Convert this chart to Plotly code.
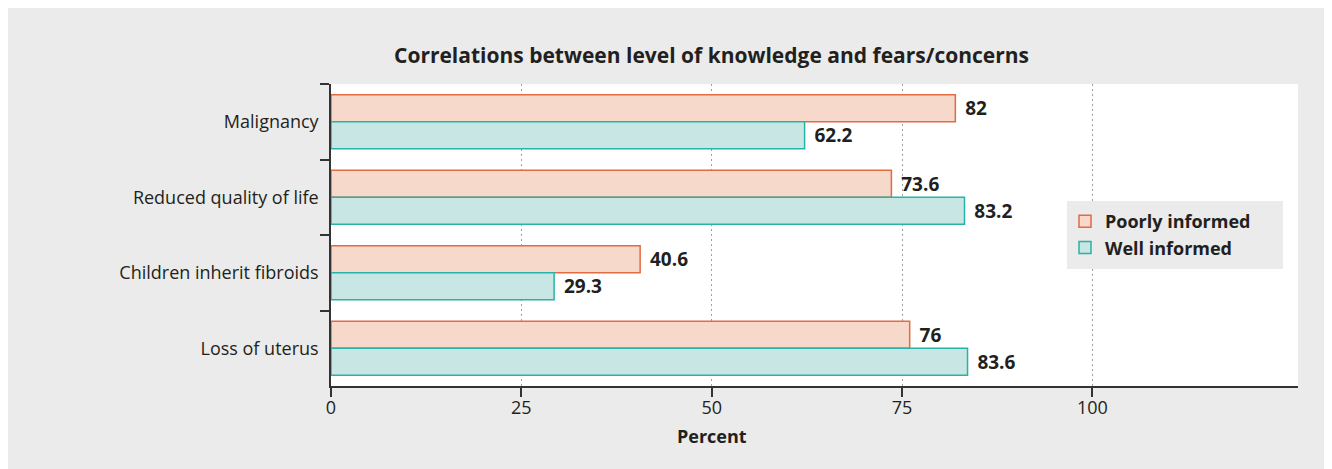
import plotly.graph_objects as go

categories = ["Malignancy", "Reduced quality of life", "Children inherit fibroids", "Loss of uterus"]
poorly = [82, 73.6, 40.6, 76]
well = [62.2, 83.2, 29.3, 83.6]
x_ticks = [0, 25, 50, 75, 100]
title_text = "Correlations between level of knowledge and fears/concerns"
x_title = "Percent"

# page has an 8px body margin; work in reference pixel coords and convert
OFF = 8
W, H = 1332 - OFF, 469 - OFF
PL, PR, PT, PB = 331, 1298, 84, 386          # plot area in reference pixels
ml, mr, mt, mb = PL - OFF, W - (PR - OFF), PT - OFF, H - (PB - OFF)
pw, ph = PR - PL, PB - PT
FONT = "Open Sans"
TXT = "#231f20"
GREY = "#eaebea"

def px2x(px):
    return (px - PL) / pw

def py2y(py):
    return (PB - py) / ph

fig = go.Figure()
for name, vals, fill, edge in [
    ("Poorly informed", poorly, "#f6d9ca", "#e36b42"),
    ("Well informed", well, "#c8e6e4", "#27b3a7"),
]:
    fig.add_trace(go.Bar(
        y=categories, x=vals, orientation="h", name=name,
        marker=dict(color=fill, line=dict(color=edge, width=1.5)),
        text=[f"\u00a0\u200a{v:g}" for v in vals], textposition="outside",
        textfont=dict(family=FONT, size=19, color=TXT, weight="bold"),
        constraintext="none", cliponaxis=False,
    ))

shapes = [
    dict(type="rect", xref="paper", yref="paper", layer="below",
         x0=px2x(6), x1=px2x(1328), y0=py2y(470), y1=py2y(8),
         fillcolor=GREY, line=dict(width=0)),
    dict(type="rect", xref="paper", yref="paper", layer="below",
         x0=0, x1=1, y0=0, y1=1, fillcolor="white", line=dict(width=0)),
    # legend box
    dict(type="rect", xref="paper", yref="paper", layer="above",
         x0=px2x(1067), x1=px2x(1283), y0=py2y(269), y1=py2y(201),
         fillcolor=GREY, line=dict(width=0)),
]

annotations = [
    dict(text=f"<b>{title_text}</b>", xref="x", yref="paper", x=50, y=py2y(55),
         xanchor="center", yanchor="middle", showarrow=False,
         font=dict(family=FONT, size=21, color=TXT)),
    dict(text=f"<b>{x_title}</b>", xref="x", yref="paper", x=50, y=py2y(436),
         xanchor="center", yanchor="middle", showarrow=False,
         font=dict(family=FONT, size=18, color=TXT)),
]

fig.update_layout(
    width=W, height=H,
    margin=dict(l=ml, r=mr, t=mt, b=mb, pad=0),
    paper_bgcolor="white", plot_bgcolor="rgba(0,0,0,0)",
    barmode="group", bargap=0.285, bargroupgap=0,
    font=dict(family=FONT, size=18, color=TXT),
    shapes=shapes, annotations=annotations,
    legend=dict(x=px2x(1065), y=py2y(203), xanchor="left", yanchor="top",
                bgcolor="rgba(0,0,0,0)",
                font=dict(family=FONT, size=18, color=TXT, weight="bold"),
                traceorder="normal", itemwidth=30),
    showlegend=True,
)
fig.update_xaxes(
    range=[0, 127], tickvals=x_ticks, ticktext=[str(v) for v in x_ticks],
    showgrid=True, gridcolor="#a0a0a0", griddash="2px,3px", gridwidth=1.2,
    showline=True, linecolor="#333333", linewidth=1.5,
    ticks="outside", ticklen=9, tickwidth=1.5, tickcolor="#333333",
    zeroline=False, tickfont=dict(family=FONT, size=18, color=TXT),
    ticklabelstandoff=-4,
)
fig.update_yaxes(
    autorange="reversed", categoryorder="array", categoryarray=categories,
    showline=True, linecolor="#333333", linewidth=1.5,
    ticks="outside", ticklen=9, tickwidth=1.5, tickcolor="#333333",
    tickson="boundaries", showgrid=False,
    tickfont=dict(family=FONT, size=18, color=TXT),
    ticklabelstandoff=7,
)

fig.write_html("out.html")
